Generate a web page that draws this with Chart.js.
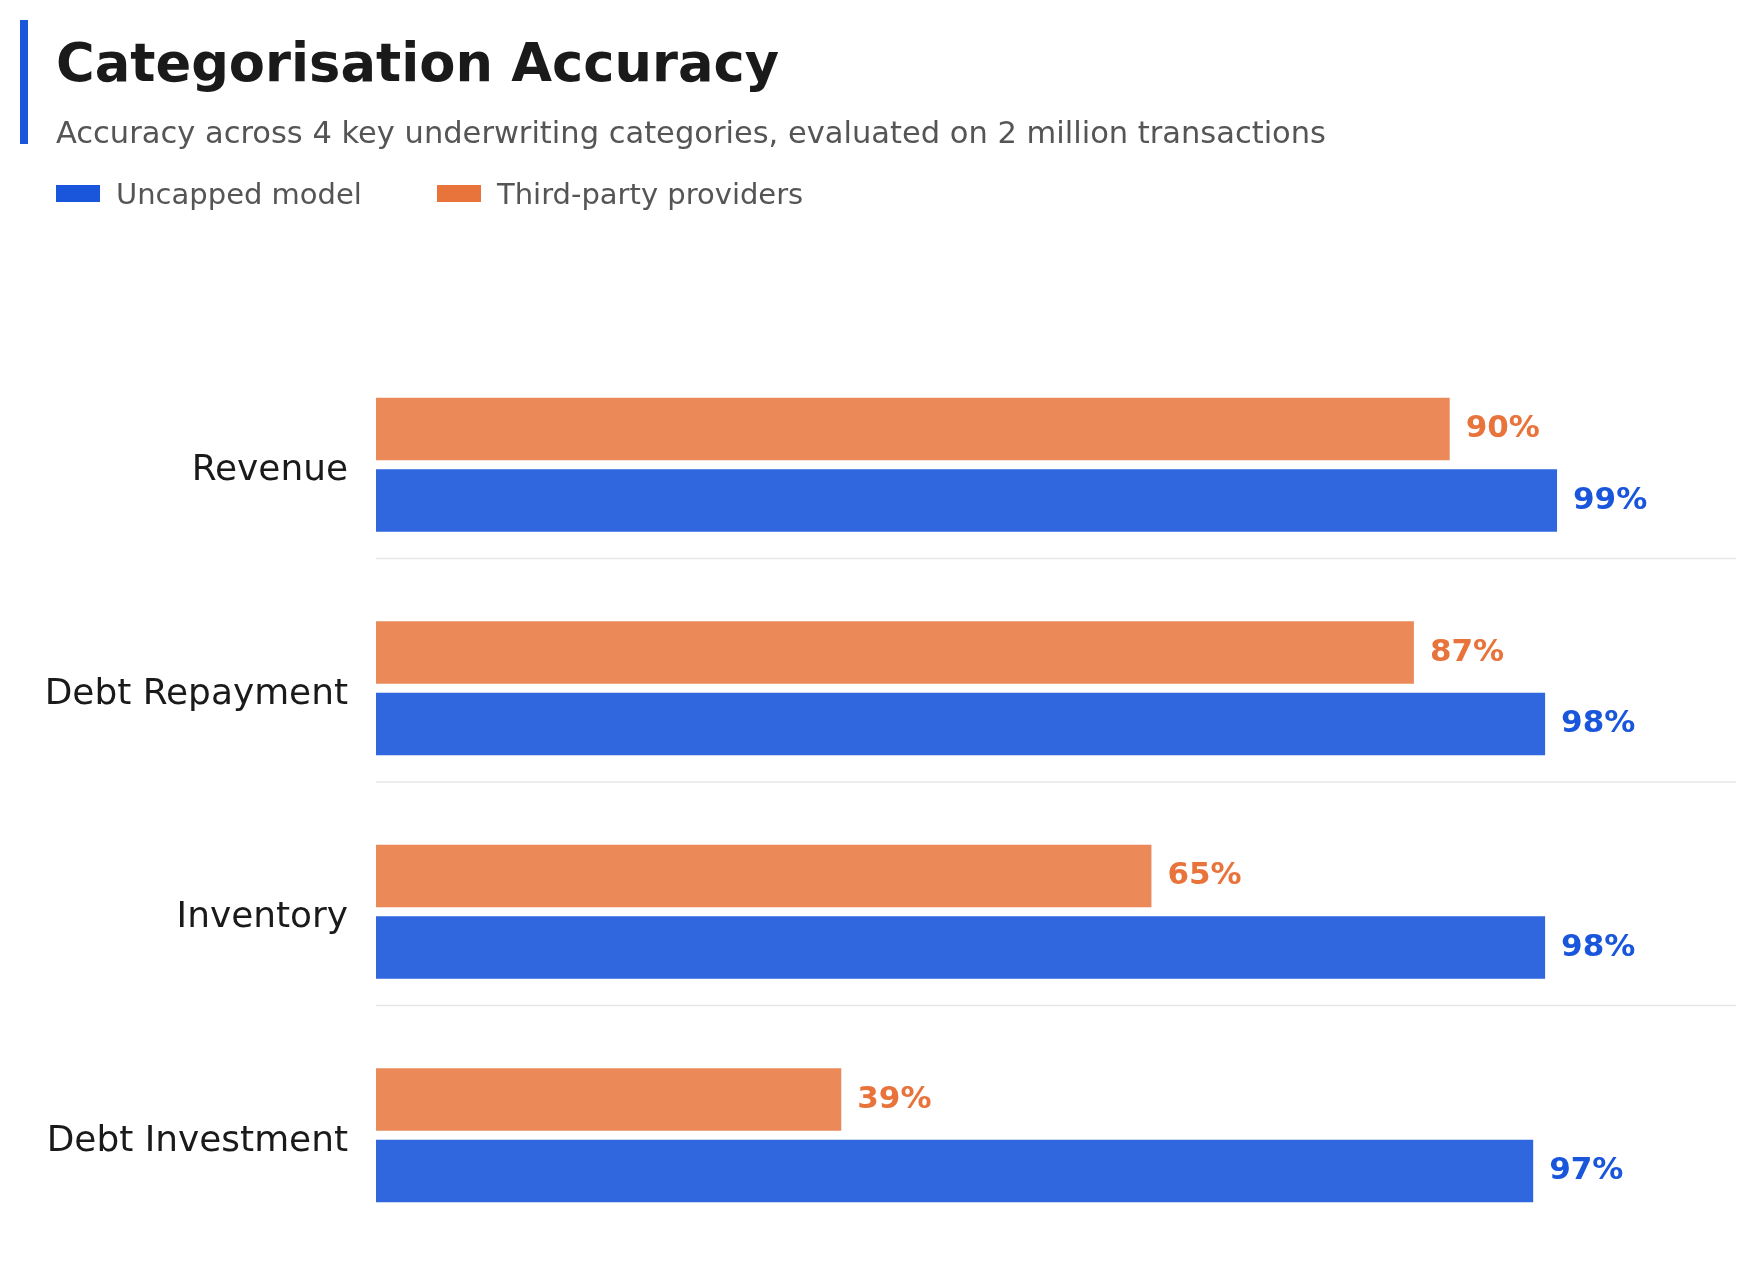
<!DOCTYPE html>
<html>
<head>
<meta charset="utf-8">
<title>Categorisation Accuracy</title>
<script src="https://cdn.jsdelivr.net/npm/chart.js@4.4.1/dist/chart.umd.min.js"></script>
<style>
  html, body { margin: 0; padding: 0; background: #fff; }
  body { width: 1755px; height: 1262px; position: relative; overflow: hidden; font-family: 'DejaVu Sans', sans-serif; }
  .accent { position: absolute; left: 20px; top: 20px; width: 8px; height: 124px; background: #1a56db; }
  .title { position: absolute; left: 56px; top: 37px; font-size: 52.7px; line-height: 1; font-weight: bold; color: #1a1a1a; white-space: nowrap; }
  .subtitle { position: absolute; left: 56px; top: 118px; font-size: 30.5px; line-height: 1; color: #555; white-space: nowrap; }
  .legend { position: absolute; top: 180px; font-size: 29px; line-height: 1; color: #555; white-space: nowrap; }
  .swatch { position: absolute; top: 185px; width: 44px; height: 17px; }
  #chart { position: absolute; left: 0; top: 0; width: 1755px; height: 1262px; }
</style>
</head>
<body>
<canvas id="chart" width="1755" height="1262"></canvas>
<div class="accent"></div>
<div class="title">Categorisation Accuracy</div>
<div class="subtitle">Accuracy across 4 key underwriting categories, evaluated on 2 million transactions</div>
<div class="swatch" style="left:56px;background:#1a56db"></div>
<div class="legend" style="left:116px">Uncapped model</div>
<div class="swatch" style="left:437px;background:#e8743b"></div>
<div class="legend" style="left:497px">Third-party providers</div>

<script>
var categories = ['Revenue', 'Debt Repayment', 'Inventory', 'Debt Investment'];
var uncapped = [99, 98, 98, 97];
var thirdParty = [90, 87, 65, 39];

var BLUE = '#1a56db';
var ORANGE = '#e8743b';

Chart.defaults.font.family = "'DejaVu Sans', sans-serif";

// separators between the category groups, sitting a bit above the midpoint
var separators = {
  id: 'separators',
  beforeDatasetsDraw: function(chart) {
    var ctx = chart.ctx;
    var y = chart.scales.y;
    var area = chart.chartArea;
    var band = y.getPixelForValue(1) - y.getPixelForValue(0);
    ctx.save();
    ctx.strokeStyle = '#e6e6e6';
    ctx.lineWidth = 1.5;
    for (var i = 0; i < categories.length - 1; i++) {
      var py = (y.getPixelForValue(i) + y.getPixelForValue(i + 1)) / 2 - band * 0.081;
      ctx.beginPath();
      ctx.moveTo(area.left, py);
      ctx.lineTo(area.right, py);
      ctx.stroke();
    }
    ctx.restore();
  }
};

var valueLabels = {
  id: 'valueLabels',
  afterDatasetsDraw: function(chart) {
    var ctx = chart.ctx;
    ctx.save();
    ctx.font = "bold 31px 'DejaVu Sans', sans-serif";
    ctx.textAlign = 'left';
    ctx.textBaseline = 'middle';
    chart.data.datasets.forEach(function(ds, di) {
      var meta = chart.getDatasetMeta(di);
      ctx.fillStyle = ds.labelColor;
      meta.data.forEach(function(bar, i) {
        ctx.fillText(ds.data[i] + '%', bar.x + 16, bar.y);
      });
    });
    ctx.restore();
  }
};

new Chart(document.getElementById('chart'), {
  type: 'bar',
  data: {
    labels: categories,
    datasets: [
      {
        label: 'Third-party providers',
        data: thirdParty,
        backgroundColor: 'rgba(232, 116, 59, 0.85)',
        labelColor: ORANGE,
        categoryPercentage: 0.64,
        barPercentage: 0.874
      },
      {
        label: 'Uncapped model',
        data: uncapped,
        backgroundColor: 'rgba(26, 86, 219, 0.9)',
        labelColor: BLUE,
        categoryPercentage: 0.64,
        barPercentage: 0.874
      }
    ]
  },
  options: {
    indexAxis: 'y',
    responsive: false,
    devicePixelRatio: 1,
    animation: false,
    layout: { padding: { left: 0, right: 19, top: 353, bottom: 15 } },
    plugins: {
      legend: { display: false },
      tooltip: { enabled: false }
    },
    scales: {
      x: { display: false, min: 0, max: 114 },
      y: {
        grid: { display: false, drawTicks: false },
        border: { display: false },
        ticks: { color: '#1a1a1a', font: { size: 35.9 }, padding: 28, labelOffset: 6 },
        afterFit: function(scale) {
          scale.width = 376;
          // labels sit inside the bands, no extra room needed above/below
          scale.paddingTop = 0;
          scale.paddingBottom = 0;
        }
      }
    }
  },
  plugins: [separators, valueLabels]
});
</script>
</body>
</html>
